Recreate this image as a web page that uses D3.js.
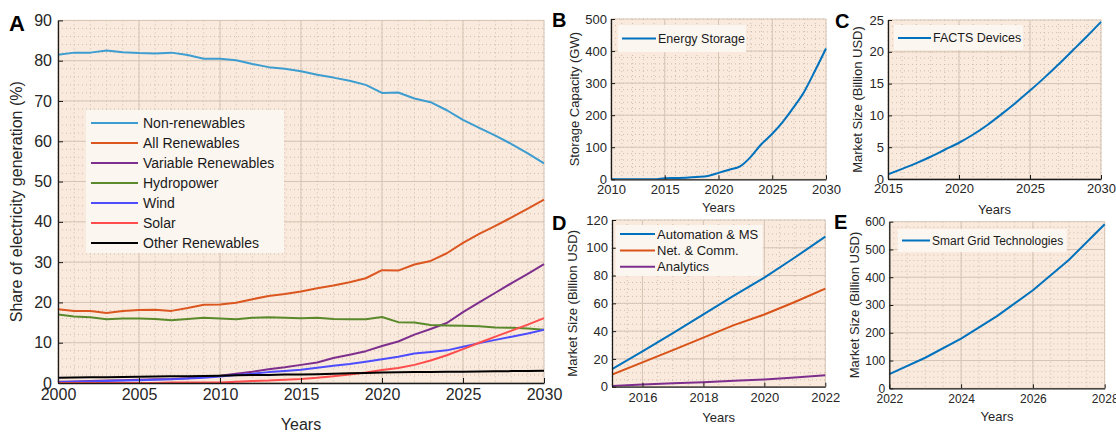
<!DOCTYPE html>
<html><head><meta charset="utf-8">
<script src="https://cdn.jsdelivr.net/npm/d3@7"></script>
<style>
body{margin:0;background:#fff;}
svg{display:block;font-family:"Liberation Sans",Arial,Helvetica,sans-serif;}
</style></head><body>
<svg id="chart" width="1116" height="432"></svg>
<script>
// ---------- DATA ----------
const yearsA = d3.range(2000, 2031);
const nonRenewables = [81.5,82.0,82.0,82.5,82.1,81.9,81.8,82.0,81.4,80.5,80.5,80.1,79.2,78.4,78.0,77.4,76.5,75.8,75.0,74.0,72.0,72.1,70.6,69.7,67.7,65.3,63.3,61.4,59.3,57.0,54.5];
const allRenewables = [18.3,17.9,17.9,17.4,17.9,18.1,18.2,17.9,18.6,19.4,19.5,19.9,20.8,21.6,22.1,22.7,23.5,24.2,25.0,26.0,28.0,27.9,29.4,30.3,32.2,34.8,37.0,39.0,41.1,43.3,45.5];
const variableRenewables = [0.3,0.4,0.5,0.6,0.7,0.8,0.9,1.0,1.2,1.5,1.8,2.3,2.8,3.4,3.9,4.5,5.1,6.2,7.0,7.9,9.2,10.3,12.0,13.4,14.9,17.6,20.0,22.4,24.8,27.1,29.5];
const hydropower = [17.0,16.5,16.3,15.8,16.0,16.0,15.9,15.6,15.9,16.2,16.0,15.8,16.2,16.3,16.2,16.1,16.2,15.9,15.8,15.8,16.4,15.1,15.0,14.4,14.3,14.2,14.1,13.8,13.7,13.5,13.2];
const wind = [0.2,0.3,0.4,0.5,0.6,0.7,0.8,0.9,1.1,1.3,1.6,2.0,2.3,2.7,3.0,3.3,3.8,4.3,4.7,5.3,5.9,6.5,7.3,7.7,8.1,9.0,9.9,10.7,11.5,12.3,13.2];
const solar = [0.0,0.0,0.0,0.0,0.0,0.0,0.0,0.1,0.1,0.1,0.1,0.3,0.5,0.6,0.8,1.0,1.3,1.7,2.1,2.6,3.2,3.7,4.5,5.6,6.9,8.4,10.0,11.5,13.0,14.5,16.1];
const otherRenewables = [1.3,1.35,1.4,1.45,1.5,1.55,1.6,1.65,1.7,1.75,1.8,1.9,2.0,2.0,2.1,2.1,2.2,2.3,2.4,2.5,2.6,2.65,2.7,2.75,2.8,2.8,2.85,2.9,2.95,3.0,3.05];
const seriesNamesA = ["Non-renewables","All Renewables","Variable Renewables","Hydropower","Wind","Solar","Other Renewables"];
const seriesColorsA = ["#3d9dd0","#dc5620","#7e2f8e","#5a8a2b","#4d4dff","#ff4d4d","#000000"];

const yearsB = d3.range(2010, 2031);
const energyStorage = [0,0,0,0,0,3,4,5,7,10,20,30,40,70,110,142,180,225,275,340,408];

const yearsC = d3.range(2015, 2031);
const factsDevices = [0.74,1.6,2.5,3.5,4.6,5.7,7.0,8.5,10.2,12.0,13.9,15.9,18.0,20.2,22.4,24.7];

const yearsD = d3.range(2015, 2023);
const automationMS = [12.7,25.5,38.5,52.0,65.5,78.5,93.0,108.0];
const netComm = [8.7,17.5,26.3,35.3,44.3,52.0,61.0,70.6];
const analytics = [0.5,1.5,2.4,3.2,4.2,5.2,6.6,8.2];

const yearsE = d3.range(2022, 2029);
const smartGrid = [51,110,179,260,353,462,591];

// ---------- DRAW ----------
const svg = d3.select("#chart");
const BG = "#f9eadd", GRID = "#d6c5b5", MINOR = "#d0bdab", LEGBG = "#fcf6f1";

function panel(o){
  const g = svg.append("g");
  const x = d3.scaleLinear().domain(o.xDomain).range([o.left,o.right]);
  const y = d3.scaleLinear().domain(o.yDomain).range([o.bottom,o.top]);
  g.append("rect").attr("x",o.left).attr("y",o.top).attr("width",o.right-o.left).attr("height",o.bottom-o.top).attr("fill",BG);
  const xm = d3.range(o.xDomain[0], o.xDomain[1]+1e-9, o.xMinor);
  const ym = d3.range(o.yDomain[0], o.yDomain[1]+1e-9, o.yMinor);
  g.selectAll(".xm").data(xm).join("line").attr("x1",d=>x(d)).attr("x2",d=>x(d)).attr("y1",o.top).attr("y2",o.bottom)
    .attr("stroke",MINOR).attr("stroke-width",1).attr("stroke-dasharray","1,3");
  g.selectAll(".ym").data(ym).join("line").attr("y1",d=>y(d)).attr("y2",d=>y(d)).attr("x1",o.left).attr("x2",o.right)
    .attr("stroke",MINOR).attr("stroke-width",1).attr("stroke-dasharray","1,3");
  g.selectAll(".xg").data(o.xGrid).join("line").attr("x1",d=>x(d)).attr("x2",d=>x(d)).attr("y1",o.top).attr("y2",o.bottom)
    .attr("stroke",GRID).attr("stroke-width",1);
  g.selectAll(".yg").data(o.yTicks).join("line").attr("y1",d=>y(d)).attr("y2",d=>y(d)).attr("x1",o.left).attr("x2",o.right)
    .attr("stroke",GRID).attr("stroke-width",1);
  const clipId = "clip"+o.letter;
  svg.append("defs").append("clipPath").attr("id",clipId).append("rect")
    .attr("x",o.left).attr("y",o.top-2).attr("width",o.right-o.left+2).attr("height",o.bottom-o.top+2);
  const lg = g.append("g").attr("clip-path",`url(#${clipId})`);
  const lineGen = d3.line().x(d=>x(d[0])).y(d=>y(d[1])).curve(o.curve||d3.curveLinear);
  o.series.forEach(s=>{
    lg.append("path").datum(o.xs.map((xv,i)=>[xv,s.values[i]])).attr("d",lineGen)
      .attr("fill","none").attr("stroke",s.color).attr("stroke-width",o.lw||2).attr("stroke-linejoin","round");
  });
  const xAxis = d3.axisBottom(x).tickValues(o.xTicks).tickSizeInner(-o.tick).tickSizeOuter(0).tickPadding(o.xPad).tickFormat(d3.format("d"));
  const yAxis = d3.axisLeft(y).tickValues(o.yTicks).tickSizeInner(-o.tick).tickSizeOuter(0).tickPadding(o.yPad).tickFormat(d3.format("d"));
  const ax = g.append("g").attr("transform",`translate(0,${o.bottom})`).call(xAxis);
  const ay = g.append("g").attr("transform",`translate(${o.left},0)`).call(yAxis);
  [ax,ay].forEach(a=>{
    a.select(".domain").attr("stroke","#1a1a1a").attr("stroke-width",1.3);
    a.selectAll(".tick line").attr("stroke","#1a1a1a");
    a.selectAll("text").attr("font-size",o.fs).attr("fill","#262626").attr("font-family","Liberation Sans, Arial, sans-serif");
  });
  g.append("text").attr("x",(o.left+o.right)/2).attr("y",o.xLabelY).attr("text-anchor","middle")
    .attr("font-size",o.lfs).attr("fill","#262626").text("Years");
  g.append("text").attr("transform",`translate(${o.yLabelX},${(o.top+o.bottom)/2}) rotate(-90)`).attr("text-anchor","middle")
    .attr("dominant-baseline","middle").attr("font-size",o.lfs).attr("fill","#262626").text(o.yLabel);
  g.append("text").attr("x",o.letterX).attr("y",o.letterY).attr("font-size",o.letterFs).attr("font-weight","bold")
    .attr("fill","#000").text(o.letter);
  const L = o.legend;
  g.append("rect").attr("x",L.x).attr("y",L.y).attr("width",L.w).attr("height",L.h).attr("fill",LEGBG);
  o.series.forEach((s,i)=>{
    const yy = L.y0 + i*L.dy;
    g.append("line").attr("x1",L.lx1).attr("x2",L.lx2).attr("y1",yy).attr("y2",yy).attr("stroke",s.color).attr("stroke-width",o.lw||2);
    g.append("text").attr("x",L.tx).attr("y",yy).attr("dominant-baseline","central").attr("font-size",L.fs).attr("fill","#1a1a1a").text(s.name);
  });
}

panel({
  letter:"A", letterX:9, letterY:31, letterFs:22,
  left:58, right:544, top:20.4, bottom:383,
  xDomain:[2000,2030], yDomain:[0,90], xs:yearsA,
  xTicks:d3.range(2000,2031,5), xGrid:d3.range(2000,2031,5), yTicks:d3.range(0,91,10),
  xMinor:1, yMinor:2, tick:5, fs:16, lfs:16, xPad:6, yPad:6,
  xLabelY:430, yLabelX:18, yLabel:"Share of electricity generation (%)",
  series:seriesNamesA.map((n,i)=>({name:n,color:seriesColorsA[i],values:[nonRenewables,allRenewables,variableRenewables,hydropower,wind,solar,otherRenewables][i]})),
  legend:{x:86,y:110,w:198,h:143,y0:123,dy:20,lx1:91,lx2:138,tx:143,fs:14}
});

panel({
  letter:"B", letterX:552, letterY:27, letterFs:20,
  left:611, right:826, top:19, bottom:179.3,
  xDomain:[2010,2030], yDomain:[0,500], xs:yearsB,
  xTicks:d3.range(2010,2031,5), xGrid:d3.range(2010,2031,5), yTicks:d3.range(0,501,100),
  xMinor:1, yMinor:20, tick:4, fs:13, lfs:13, xPad:5, yPad:4,
  xLabelY:212, yLabelX:576, yLabel:"Storage Capacity (GW)",
  curve:d3.curveMonotoneX,
  series:[{name:"Energy Storage",color:"#0072bd",values:energyStorage}],
  legend:{x:618,y:25,w:128,h:27,y0:38.5,dy:16,lx1:622,lx2:656,tx:658,fs:12.5}
});

panel({
  letter:"C", letterX:835, letterY:28, letterFs:20,
  left:888, right:1101, top:20, bottom:179,
  xDomain:[2015,2030], yDomain:[0,25], xs:yearsC,
  xTicks:d3.range(2015,2031,5), xGrid:d3.range(2015,2031,5), yTicks:d3.range(0,26,5),
  xMinor:1, yMinor:1, tick:4, fs:13, lfs:13, xPad:5, yPad:4,
  xLabelY:214, yLabelX:859, yLabel:"Market Size (Billion USD)",
  curve:d3.curveMonotoneX,
  series:[{name:"FACTS Devices",color:"#0072bd",values:factsDevices}],
  legend:{x:894,y:25,w:129,h:25,y0:38,dy:16,lx1:898,lx2:931,tx:933,fs:12.5}
});

panel({
  letter:"D", letterX:552, letterY:230, letterFs:20,
  left:612, right:825.3, top:220, bottom:386.7,
  xDomain:[2015,2022], yDomain:[0,120], xs:yearsD,
  xTicks:[2016,2018,2020,2022], xGrid:[2016,2018,2020,2022], yTicks:d3.range(0,121,20),
  xMinor:0.5, yMinor:5, tick:4, fs:13, lfs:13, xPad:6, yPad:4,
  xLabelY:422, yLabelX:574, yLabel:"Market Size (Billion USD)",
  series:[{name:"Automation & MS",color:"#0072bd",values:automationMS},
          {name:"Net. & Comm.",color:"#d95319",values:netComm},
          {name:"Analytics",color:"#7e2f8e",values:analytics}],
  legend:{x:615.7,y:225,w:147,h:51,y0:234,dy:16.4,lx1:620,lx2:655,tx:657,fs:13}
});

panel({
  letter:"E", letterX:834, letterY:229, letterFs:20,
  left:889.3, right:1104.7, top:221.7, bottom:388.3,
  xDomain:[2022,2028], yDomain:[0,600], xs:yearsE,
  xTicks:d3.range(2022,2029,2), xGrid:d3.range(2022,2029,2), yTicks:d3.range(0,601,100),
  xMinor:0.5, yMinor:20, tick:4, fs:12, lfs:13, xPad:6, yPad:4,
  xLabelY:421, yLabelX:856, yLabel:"Market Size (Billion USD)",
  series:[{name:"Smart Grid Technologies",color:"#0072bd",values:smartGrid}],
  legend:{x:897.7,y:229,w:169,h:23,y0:240.5,dy:16,lx1:902,lx2:930,tx:932,fs:12}
});
</script>
</body></html>
